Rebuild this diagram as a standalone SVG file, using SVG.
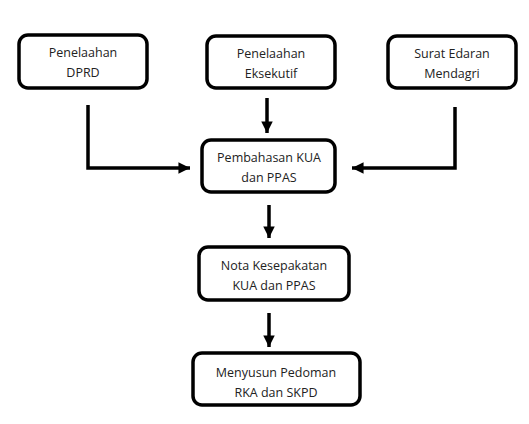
<svg xmlns="http://www.w3.org/2000/svg" width="529" height="424" viewBox="0 0 529 424">
<style>
.box{fill:#fff;stroke:#000;stroke-width:3.5}
.t{font-family:"Open Sans","Liberation Sans",sans-serif;font-size:12.5px;fill:#222;text-anchor:middle}
.c{fill:none;stroke:#000;stroke-width:3.5}
</style>
<defs>
<marker id="ah" viewBox="0 0 10 10" refX="10" refY="5" markerWidth="3.3" markerHeight="3.3" orient="auto" markerUnits="strokeWidth">
<path d="M0,0 L10,5 L0,10 Z" fill="#000"/>
</marker>
</defs>
<rect width="529" height="424" fill="#fff"/>
<g id="n1"><rect class="box" x="19" y="35" width="128" height="53" rx="9"/><text class="t" x="83" y="57">Penelaahan</text><text class="t" x="83" y="77">DPRD</text></g>
<g id="n2"><rect class="box" x="207" y="36" width="128" height="52" rx="9"/><text class="t" x="271" y="58">Penelaahan</text><text class="t" x="271" y="78">Eksekutif</text></g>
<g id="n3"><rect class="box" x="388" y="36" width="128" height="52" rx="9"/><text class="t" x="452" y="58">Surat Edaran</text><text class="t" x="452" y="78">Mendagri</text></g>
<g id="n4"><rect class="box" x="202" y="140" width="133" height="52" rx="9"/><text class="t" x="269" y="162">Pembahasan KUA</text><text class="t" x="269" y="182">dan PPAS</text></g>
<g id="n5"><rect class="box" x="199" y="247" width="150" height="53" rx="9"/><text class="t" x="274" y="270">Nota Kesepakatan</text><text class="t" x="274" y="290">KUA dan PPAS</text></g>
<g id="n6"><rect class="box" x="193" y="353" width="167" height="52" rx="9"/><text class="t" x="276" y="377">Menyusun Pedoman</text><text class="t" x="276" y="397">RKA dan SKPD</text></g>
<g id="connectors">
<path class="c" d="M88,105 V168 H190" marker-end="url(#ah)"/>
<path class="c" d="M267,98 V133" marker-end="url(#ah)"/>
<path class="c" d="M455,107 V168 H352" marker-end="url(#ah)"/>
<path class="c" d="M269,205 V238" marker-end="url(#ah)"/>
<path class="c" d="M269,313 V347" marker-end="url(#ah)"/>
</g>
</svg>
